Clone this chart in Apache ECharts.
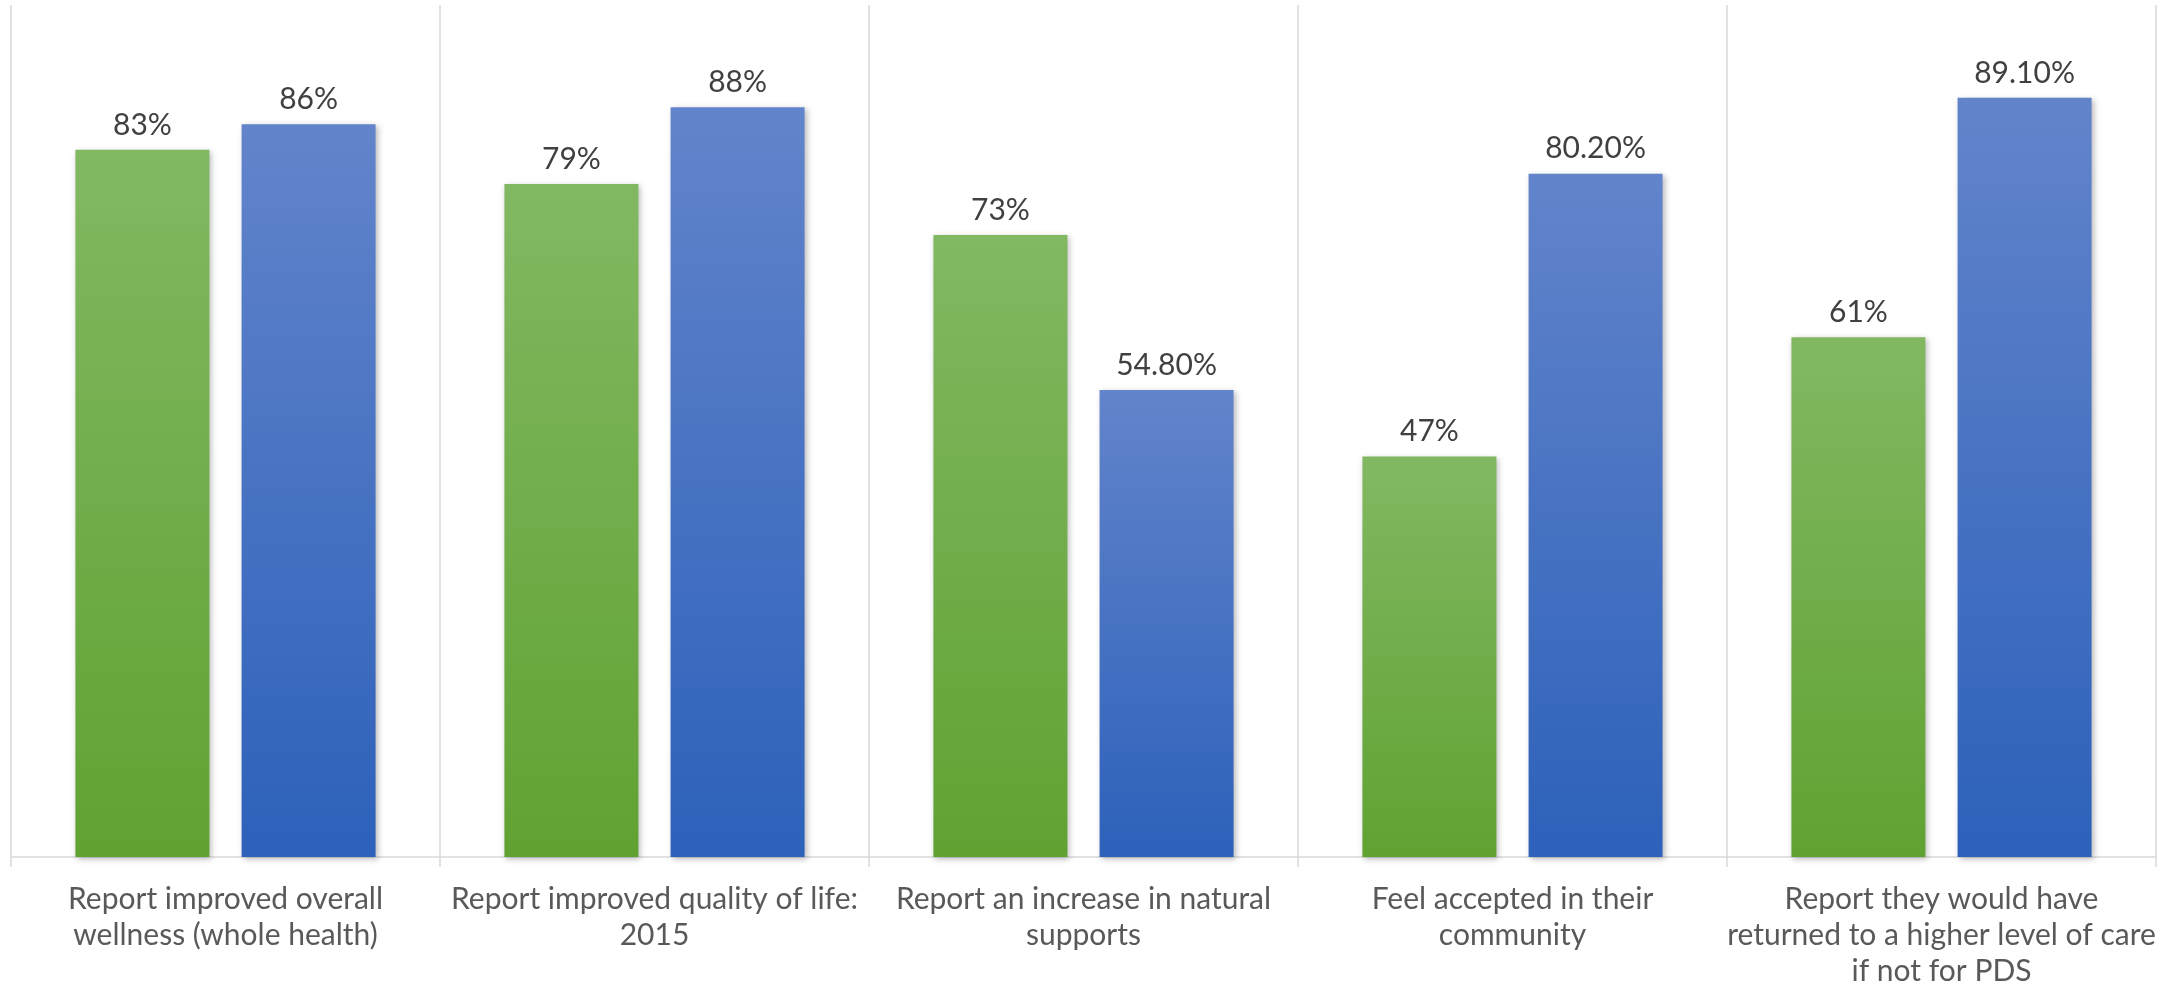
<!DOCTYPE html>
<html>
<head>
<meta charset="utf-8">
<script src="https://cdn.jsdelivr.net/npm/echarts@6/dist/echarts.min.js"></script>
<style>
  html, body { margin: 0; padding: 0; background: #fff; }
  #chart { width: 2170px; height: 990px; }
</style>
</head>
<body>
<div id="chart"></div>
<script>
// Survey outcomes: two groups per statement (percent)
const categories = [
  'Report improved overall\nwellness (whole health)',
  'Report improved quality of life:\n2015',
  'Report an increase in natural\nsupports',
  'Feel accepted in their\ncommunity',
  'Report they would have\nreturned to a higher level of care\nif not for PDS'
];
const greenValues = [83, 79, 73, 47, 61];
const blueValues = [86, 88, 54.8, 80.2, 89.1];

const FONT = 'Lato, "Open Sans", sans-serif';

function pctLabel(v) {
  return Number.isInteger(v) ? v + '%' : v.toFixed(2) + '%';
}

function gradient(top, bottom) {
  return new echarts.graphic.LinearGradient(0, 0, 0, 1, [
    { offset: 0, color: top },
    { offset: 1, color: bottom }
  ]);
}

function barSeries(name, data, top, bottom) {
  return {
    name: name,
    type: 'bar',
    data: data,
    barWidth: 134,
    barGap: '24%',
    itemStyle: {
      color: gradient(top, bottom),
      shadowColor: 'rgba(0,0,0,0.28)',
      shadowBlur: 6,
      shadowOffsetX: 2,
      shadowOffsetY: 2
    },
    label: {
      show: true,
      position: 'top',
      distance: 10,
      fontFamily: FONT,
      fontSize: 30,
      color: '#404040',
      formatter: p => pctLabel(p.value)
    }
  };
}

const chart = echarts.init(document.getElementById('chart'));
chart.setOption({
  animation: false,
  backgroundColor: '#ffffff',
  grid: { left: 11, right: 14, top: 5, bottom: 133, containLabel: false },
  xAxis: {
    type: 'category',
    data: categories,
    boundaryGap: true,
    axisLine: { show: true, lineStyle: { color: '#D9D9D9', width: 1.5 } },
    axisTick: { show: true, length: 10, lineStyle: { color: '#D9D9D9', width: 1.5 } },
    splitLine: { show: true, lineStyle: { color: '#D9D9D9', width: 1.5 } },
    axisLabel: {
      interval: 0,
      margin: 24,
      fontFamily: FONT,
      fontSize: 30,
      lineHeight: 36,
      color: '#595959',
      align: 'center'
    }
  },
  yAxis: {
    type: 'value',
    min: 0,
    max: 100,
    show: false,
    splitLine: { show: false }
  },
  series: [
    barSeries('Group A', greenValues, '#82B862', '#60A232'),
    barSeries('Group B', blueValues, '#6284CB', '#2D61BA')
  ]
});
</script>
</body>
</html>
